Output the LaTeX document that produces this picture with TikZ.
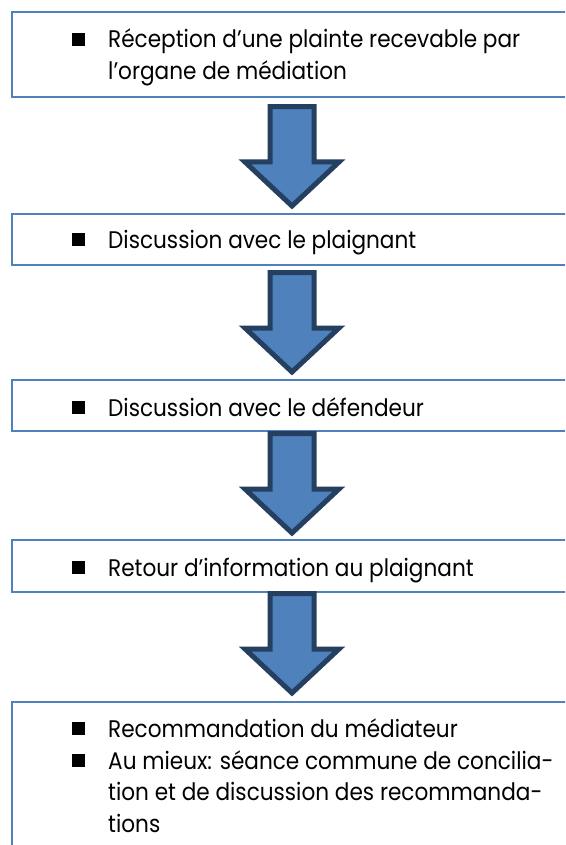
\documentclass[tikz,border=0pt]{standalone}
\usepackage{fontspec}
\setmainfont{Poppins}[FakeStretch=0.9]
\usetikzlibrary{calc}
\definecolor{boxblue}{RGB}{79,129,189}
\definecolor{arrowdark}{RGB}{36,63,96}
\newcommand\flowarrow[4]{%
  \draw[blockarrow] let \p1=(#1.south), \p2=(#2.north) in
    (270pt,\y1-#3) -- (314pt,\y1-#3) -- (314pt,\y2+#4+44pt) -- (339pt,\y2+#4+44pt)
    -- (292pt,\y2+#4) -- (245pt,\y2+#4+44pt) -- (270pt,\y2+#4+44pt) -- cycle;}
\begin{document}
\begin{tikzpicture}[x=1pt,y=-1pt,
  box/.style={draw=boxblue, line width=1.6pt, anchor=north west, inner sep=0pt, minimum width=580pt},
  blockarrow/.style={fill=boxblue, draw=arrowdark, line width=5pt, line join=miter},
  itemtext/.style={anchor=base west, inner sep=0pt, font=\fontsize{24}{30}\selectfont},
  bulletsq/.style={fill=black, anchor=south west, minimum size=13pt, inner sep=0pt}
]
\useasboundingbox (0,0) rectangle (565,845);
\clip (0,0) rectangle (565,845);
\fill[white] (0,0) rectangle (565,845);
% boxes
\node[box, minimum height=85pt] (b1) at (11,11) {};
\node[box, minimum height=51pt] (b2) at (11,213) {};
\node[box, minimum height=51pt] (b3) at (11,379) {};
\node[box, minimum height=52pt] (b4) at (11,539) {};
\node[box, minimum height=170pt] (b5) at (11,701) {};
% arrows
\flowarrow{b1}{b2}{9pt}{7pt}
\flowarrow{b2}{b3}{7pt}{7pt}
\flowarrow{b3}{b4}{2pt}{6pt}
\flowarrow{b4}{b5}{1pt}{8pt}
% texts
\node[bulletsq] (s1) at (72,46.5) {};
\node[itemtext] (t1a) at (108,48) {Réception d’une plainte recevable par};
\node[itemtext] (t1b) at (108,80) {l’organe de médiation};
\node[bulletsq] (s2) at (72,246.5) {};
\node[itemtext] (t2) at (108,248) {Discussion avec le plaignant};
\node[bulletsq] (s3) at (72,414.5) {};
\node[itemtext] (t3) at (108,416) {Discussion avec le défendeur};
\node[bulletsq] (s4) at (72,574.5) {};
\node[itemtext] (t4) at (108,576) {Retour d’information au plaignant};
\node[bulletsq] (s5) at (72,735.5) {};
\node[itemtext] (t5a) at (108,737) {Recommandation du médiateur};
\node[bulletsq] (s6) at (72,767.5) {};
\node[itemtext] (t5b) at (108,769) {Au mieux: séance commune de concilia-};
\node[itemtext] (t5c) at (108,800.5) {tion et de discussion des recommanda-};
\node[itemtext] (t5d) at (108,832) {tions};
\end{tikzpicture}
\end{document}
